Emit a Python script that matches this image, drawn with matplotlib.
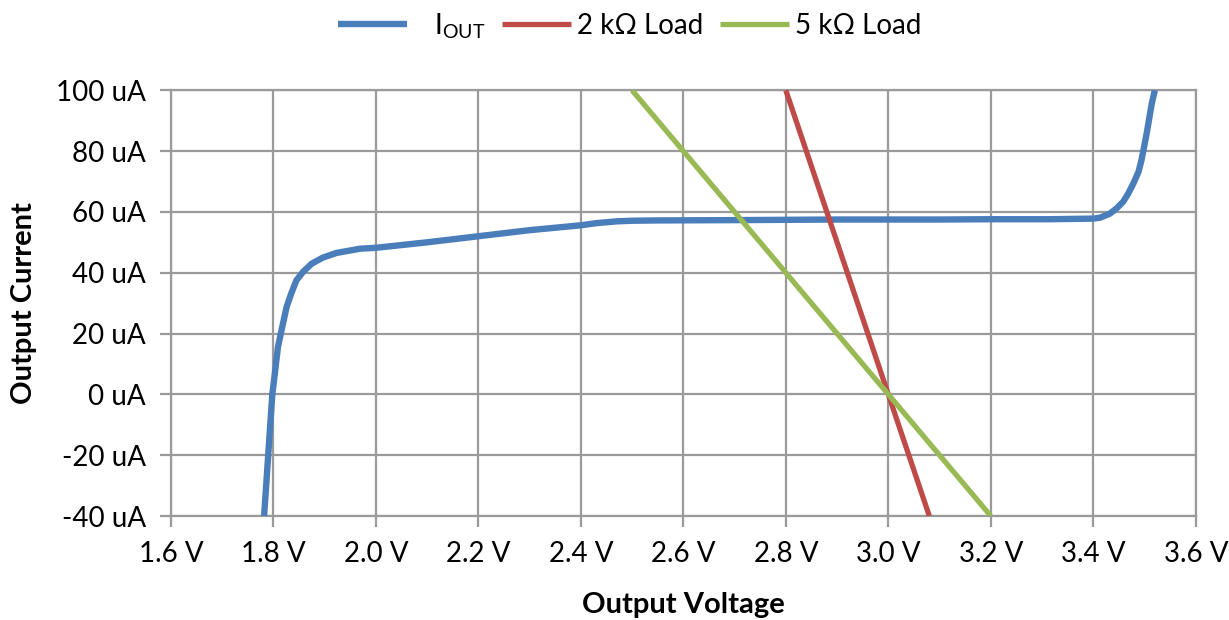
import matplotlib
matplotlib.use("Agg")
import matplotlib.pyplot as plt

# Output current vs output voltage (blue curve)
v_out = [1.782, 1.790, 1.798, 1.803, 1.809, 1.816, 1.826, 1.835, 1.845, 1.858,
         1.875, 1.897, 1.923, 1.969, 2.0, 2.1, 2.2, 2.3, 2.4, 2.43, 2.47, 2.5,
         2.55, 2.7, 2.9, 3.1, 3.2, 3.315, 3.4, 3.413, 3.432, 3.445, 3.458, 3.468,
         3.478, 3.488, 3.494, 3.504, 3.514, 3.520]
i_out = [-40, -20, 0, 6.9, 15.6, 21.1, 28.8, 33.2, 37.5, 40.3,
         43.0, 45.0, 46.5, 47.9, 48.2, 50.0, 52.0, 54.0, 55.6, 56.3, 56.9, 57.1,
         57.2, 57.3, 57.5, 57.5, 57.6, 57.6, 57.8, 58.1, 59.4, 61.1, 63.3, 66.0,
         69.3, 73.1, 77.0, 85.7, 95.6, 100]

# load lines (end points)
v_2k = [2.80, 3.08]
i_2k = [100, -40]
v_5k = [2.50, 3.20]
i_5k = [100, -40]

x_ticks = [1.6, 1.8, 2.0, 2.2, 2.4, 2.6, 2.8, 3.0, 3.2, 3.4, 3.6]
y_ticks = [-40, -20, 0, 20, 40, 60, 80, 100]

plt.rcParams['font.family'] = ['Lato', 'DejaVu Sans']
plt.rcParams['mathtext.fontset'] = 'custom'
plt.rcParams['mathtext.rm'] = 'Lato'

grid_col = '#9a9a9a'

fig = plt.figure(figsize=(12.29, 6.2), dpi=100)
ax = fig.add_axes([0.139, 0.1677, 0.834, 0.6867])

ax.plot(v_out, i_out, color='#4a7ebb', lw=4.6, label=r'   I$_{\mathrm{OUT}}$',
        solid_capstyle='butt', solid_joinstyle='round', zorder=3)
ax.plot(v_2k, i_2k, color='#be4b48', lw=3.8, label='2 kΩ Load',
        solid_capstyle='butt', zorder=3)
ax.plot(v_5k, i_5k, color='#98b954', lw=3.8, label='5 kΩ Load',
        solid_capstyle='butt', zorder=3)

ax.set_xlim(1.6, 3.6)
ax.set_ylim(-40, 100)
ax.set_xticks(x_ticks)
ax.set_yticks(y_ticks)
ax.set_xticklabels([f'{v:.1f} V' for v in x_ticks])
ax.set_yticklabels([f'{v} uA' for v in y_ticks])
ax.grid(True, color=grid_col, lw=1.6)
ax.set_axisbelow(True)
for s in ax.spines.values():
    s.set_color(grid_col)
    s.set_linewidth(1.6)
ax.tick_params(axis='both', colors=grid_col, labelcolor='black', length=8,
               width=1.6, labelsize=20, pad=10)

ax.set_xlabel('Output Voltage', fontsize=21, fontweight='bold', labelpad=18)
ax.set_ylabel('Output Current', fontsize=21, fontweight='bold', labelpad=14)

fig.legend(loc='center', bbox_to_anchor=(0.512, 0.958), ncol=3, frameon=False,
           fontsize=20, handlelength=2.5, columnspacing=0.6, handletextpad=0.2)

fig.savefig('out.png', dpi=100)
